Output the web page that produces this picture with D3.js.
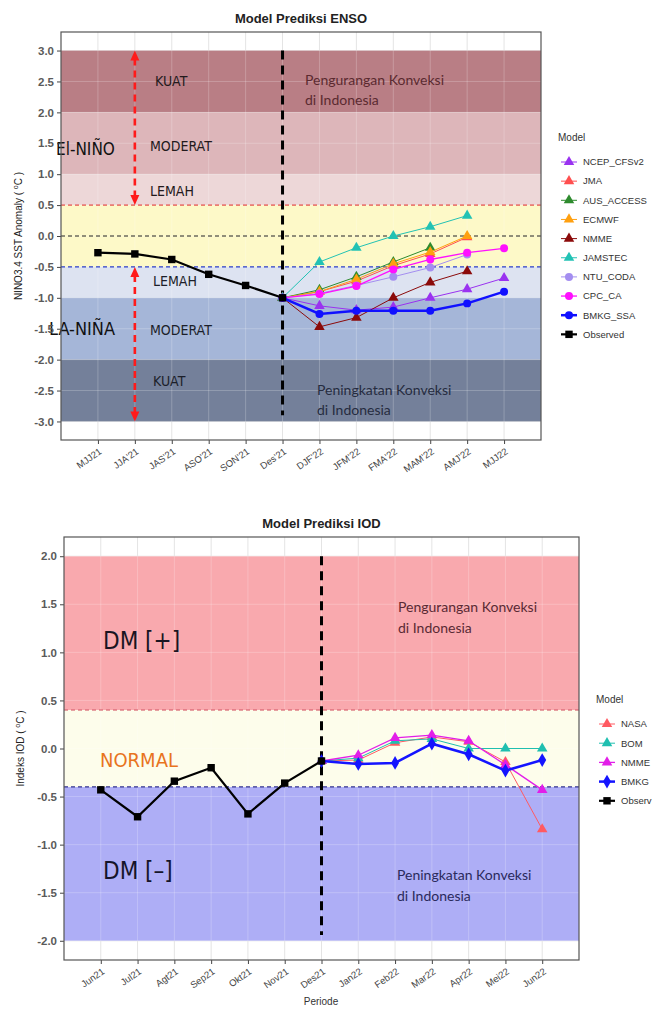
<!DOCTYPE html>
<html>
<head>
<meta charset="utf-8">
<script src="https://cdn.jsdelivr.net/npm/d3@7"></script>
<style>
  body { margin: 0; background: #fff; }
  svg { display: block; }
</style>
</head>
<body>
<div id="chart"></div>
<script>
// ENSO data
var ensoPeriods = ["MJJ21", "JJA'21", "JAS'21", "ASO'21", "SON'21", "Des'21", "DJF'22", "JFM'22", "FMA'22", "MAM'22", "AMJ'22", "MJJ22"];
var ensoObserved = [-0.27, -0.29, -0.38, -0.62, -0.8, -1.0];
// model values start at Des'21
var ensoNcep = [-1.0, -1.13, -1.2, -1.15, -1.0, -0.86, -0.68];
var ensoJma = [-1.0, -0.9, -0.73, -0.48, -0.29, -0.02];
var ensoAus = [-1.0, -0.87, -0.66, -0.42, -0.19];
var ensoEcmwf = [-1.0, -0.9, -0.7, -0.45, -0.26, 0.0];
var ensoNmme = [-1.0, -1.47, -1.32, -1.0, -0.75, -0.57];
var ensoJamstec = [-1.0, -0.42, -0.19, 0.0, 0.15, 0.33];
var ensoNtu = [-1.0, -0.93, -0.8, -0.66, -0.51, -0.3];
var ensoCpc = [-1.0, -0.94, -0.81, -0.54, -0.38, -0.27, -0.2];
var ensoBmkg = [-1.0, -1.26, -1.21, -1.21, -1.21, -1.09, -0.9];
var ensoTicks = [-3, -2.5, -2, -1.5, -1, -0.5, 0, 0.5, 1, 1.5, 2, 2.5, 3];

// IOD data
var iodPeriods = ["Jun21", "Jul21", "Agt21", "Sep21", "Okt21", "Nov21", "Des21", "Jan22", "Feb22", "Mar22", "Apr22", "Mei22", "Jun22"];
var iodObserved = [-0.43, -0.71, -0.34, -0.2, -0.68, -0.36, -0.13];
// model values start at Des21
var iodNasa = [-0.13, -0.12, 0.06, 0.12, 0.07, -0.14, -0.84];
var iodBom = [-0.13, -0.1, 0.08, 0.1, 0.0, 0.0, 0.0];
var iodNmme = [-0.13, -0.07, 0.11, 0.14, 0.08, -0.17, -0.43];
var iodBmkg = [-0.13, -0.16, -0.15, 0.05, -0.06, -0.23, -0.12];
var iodTicks = [-2, -1.5, -1, -0.5, 0, 0.5, 1, 1.5, 2];

var svg = d3
  .select("#chart")
  .append("svg")
  .attr("width", 656)
  .attr("height", 1010)
  .style("font-family", "'Liberation Sans', Arial, sans-serif");

var dinFont = "'DejaVu Sans Condensed', 'DejaVu Sans', sans-serif";
var calFont = "Lato, 'Open Sans', sans-serif";

function symbolFor(shape) {
  if (shape === "triangle") return d3.symbol().type(d3.symbolTriangle).size(48);
  if (shape === "circle") return d3.symbol().type(d3.symbolCircle).size(50);
  if (shape === "diamond") return d3.symbol().type(d3.symbolDiamond).size(55);
  return d3.symbol().type(d3.symbolSquare).size(55);
}

function drawPanel(p) {
  var x = d3.scalePoint().domain(p.periods).range([p.left, p.right]).padding(1);
  var y = d3.scaleLinear().domain(p.yDomain).range([p.bottom, p.top]);
  var g = svg.append("g");

  // title
  g.append("text")
    .attr("x", (p.left + p.right) / 2)
    .attr("y", p.top - 9)
    .attr("text-anchor", "middle")
    .style("font-size", "13px")
    .style("font-weight", "bold")
    .style("fill", "#222")
    .text(p.title);

  // grid under bands
  var minor = d3.range(p.yDomain[0], p.yDomain[1], 0.25).filter((v) => Math.abs(v * 4 - Math.round(v * 4)) < 1e-6);
  g.selectAll(".gridy")
    .data(d3.range(-12, 13).map((d) => d * 0.25).filter((v) => v > p.yDomain[0] && v < p.yDomain[1]))
    .enter()
    .append("line")
    .attr("x1", p.left)
    .attr("x2", p.right)
    .attr("y1", (d) => y(d))
    .attr("y2", (d) => y(d))
    .attr("stroke", (d) => (Math.abs(d * 2 - Math.round(d * 2)) < 1e-6 ? "#e4e4e4" : "#f1f1f1"))
    .attr("stroke-width", 1);
  g.selectAll(".gridx")
    .data(p.periods)
    .enter()
    .append("line")
    .attr("x1", (d) => x(d))
    .attr("x2", (d) => x(d))
    .attr("y1", p.top)
    .attr("y2", p.bottom)
    .attr("stroke", "#e4e4e4");

  // bands
  g.selectAll(".band")
    .data(p.bands)
    .enter()
    .append("rect")
    .attr("x", p.left)
    .attr("width", p.right - p.left)
    .attr("y", (d) => y(d.hi))
    .attr("height", (d) => y(d.lo) - y(d.hi))
    .attr("fill", (d) => d.color);

  // faint grid over bands
  g.selectAll(".gridx2")
    .data(p.periods)
    .enter()
    .append("line")
    .attr("x1", (d) => x(d))
    .attr("x2", (d) => x(d))
    .attr("y1", y(p.bands[0].hi))
    .attr("y2", y(p.bands[p.bands.length - 1].lo))
    .attr("stroke", "#fff")
    .attr("stroke-opacity", 0.22);
  g.selectAll(".gridy2")
    .data(p.yTicks)
    .enter()
    .append("line")
    .attr("x1", p.left)
    .attr("x2", p.right)
    .attr("y1", (d) => y(d))
    .attr("y2", (d) => y(d))
    .attr("stroke", "#fff")
    .attr("stroke-opacity", 0.22);

  // dashed threshold lines
  p.hlines.forEach(function (h) {
    g.append("line")
      .attr("x1", p.left)
      .attr("x2", p.right)
      .attr("y1", y(h.v))
      .attr("y2", y(h.v))
      .attr("stroke", h.color)
      .attr("stroke-width", h.w)
      .attr("stroke-dasharray", "4,3");
  });

  // double headed arrows
  (p.arrows || []).forEach(function (a) {
    var ax = x(p.periods[a.at]);
    var y1 = y(a.from), y2 = y(a.to);
    g.append("line")
      .attr("x1", ax).attr("x2", ax)
      .attr("y1", y1 + 8).attr("y2", y2 - 8)
      .attr("stroke", "#ff1a1a")
      .attr("stroke-width", 2.6)
      .attr("stroke-dasharray", "7,5");
    g.append("path")
      .attr("d", "M" + ax + "," + y1 + "L" + (ax - 4.5) + "," + (y1 + 10) + "L" + (ax + 4.5) + "," + (y1 + 10) + "Z")
      .attr("fill", "#ff1a1a");
    g.append("path")
      .attr("d", "M" + ax + "," + y2 + "L" + (ax - 4.5) + "," + (y2 - 10) + "L" + (ax + 4.5) + "," + (y2 - 10) + "Z")
      .attr("fill", "#ff1a1a");
  });

  // vertical dashed separator
  g.append("line")
    .attr("x1", x(p.periods[p.splitAt]))
    .attr("x2", x(p.periods[p.splitAt]))
    .attr("y1", y(p.split[0]))
    .attr("y2", y(p.split[1]))
    .attr("stroke", "#000")
    .attr("stroke-width", 3)
    .attr("stroke-dasharray", "9,6");

  // annotations
  p.notes.forEach(function (n) {
    g.append("text")
      .attr("x", p.left + n.dx)
      .attr("y", y(n.v))
      .attr("dy", "0.35em")
      .style("font-family", n.font)
      .style("font-size", n.size + "px")
      .style("fill", n.color)
      .text(n.text);
  });

  // series
  var line = d3
    .line()
    .defined((d) => d.v != null)
    .x((d) => x(d.p))
    .y((d) => y(d.v));
  p.series.forEach(function (s) {
    var pts = s.values.map((v, i) => ({ p: p.periods[s.start + i], v: v }));
    g.append("path")
      .datum(pts)
      .attr("d", line)
      .attr("fill", "none")
      .attr("stroke", s.color)
      .attr("stroke-width", s.w);
    g.selectAll(null)
      .data(pts)
      .enter()
      .append("path")
      .attr("transform", (d) => "translate(" + x(d.p) + "," + y(d.v) + ")")
      .attr("d", symbolFor(s.shape))
      .attr("fill", s.color);
  });

  // axes
  var yAxis = g
    .append("g")
    .attr("transform", "translate(" + p.left + ",0)")
    .call(d3.axisLeft(y).tickValues(p.yTicks).tickFormat((d) => d.toFixed(1)).tickSize(4));
  yAxis.select(".domain").remove();
  yAxis.selectAll("line").attr("stroke", "#444");
  yAxis.selectAll("text")
    .style("font-size", "11.5px")
    .style("font-weight", "bold")
    .style("fill", "#5a5a5a")
    .style("font-family", "'Liberation Sans', Arial, sans-serif");

  var xAxis = g
    .append("g")
    .attr("transform", "translate(0," + p.bottom + ")")
    .call(d3.axisBottom(x).tickSize(4));
  xAxis.select(".domain").remove();
  xAxis.selectAll("line").attr("stroke", "#444");
  xAxis.selectAll("text")
    .attr("x", 0)
    .attr("y", 0)
    .attr("dy", 0)
    .attr("transform", "translate(4,13) rotate(-35)")
    .style("text-anchor", "end")
    .style("font-size", "9.5px")
    .style("fill", "#444")
    .style("font-family", "'Liberation Sans', Arial, sans-serif");

  // panel border
  g.append("rect")
    .attr("x", p.left)
    .attr("y", p.top)
    .attr("width", p.right - p.left)
    .attr("height", p.bottom - p.top)
    .attr("fill", "none")
    .attr("stroke", "#555")
    .attr("stroke-width", 1.2);

  // y label
  var yl = g
    .append("text")
    .attr("transform", "translate(" + p.yLabelX + "," + (p.top + p.bottom) / 2 + ") rotate(-90)")
    .attr("text-anchor", "middle")
    .style("font-size", "10px")
    .style("fill", "#222");
  yl.append("tspan").text(p.yLabel + " ( ");
  yl.append("tspan").attr("dy", "-4").style("font-size", "7px").text("o");
  yl.append("tspan").attr("dy", "4").text("C )");

  // legend
  var lg = g.append("g");
  lg.append("text")
    .attr("x", p.legend.x)
    .attr("y", p.legend.y)
    .style("font-size", "10px")
    .style("fill", "#333")
    .text("Model");
  p.series.forEach(function (s, i) {
    var ly = p.legend.y + 21 + i * p.legend.step;
    var kx = p.legend.x + p.legend.key;
    lg.append("line")
      .attr("x1", kx - 8).attr("x2", kx + 8)
      .attr("y1", ly).attr("y2", ly)
      .attr("stroke", s.color)
      .attr("stroke-width", s.w);
    lg.append("path")
      .attr("transform", "translate(" + kx + "," + ly + ")")
      .attr("d", symbolFor(s.shape))
      .attr("fill", s.color);
    lg.append("text")
      .attr("x", kx + 14)
      .attr("y", ly)
      .attr("dy", "0.35em")
      .style("font-size", "9.5px")
      .style("fill", "#333")
      .text(s.label || s.name);
  });
}

drawPanel({
  title: "Model Prediksi ENSO",
  periods: ensoPeriods,
  left: 61, right: 541, top: 32, bottom: 440,
  yDomain: [-3.3, 3.3],
  yTicks: ensoTicks,
  yLabel: "NINO3.4 SST Anomaly",
  yLabelX: 22,
  bands: [
    { lo: 2, hi: 3, color: "#b97e85" },
    { lo: 1, hi: 2, color: "#ddb6ba" },
    { lo: 0.5, hi: 1, color: "#edd7d8" },
    { lo: -0.5, hi: 0.5, color: "#fdf9c8" },
    { lo: -1, hi: -0.5, color: "#dde3f1" },
    { lo: -2, hi: -1, color: "#a5b6d8" },
    { lo: -3, hi: -2, color: "#74809a" }
  ],
  hlines: [
    { v: 0.5, color: "#e02828", w: 1 },
    { v: 0, color: "#222", w: 1 },
    { v: -0.5, color: "#2a3ec8", w: 1.4 }
  ],
  arrows: [
    { at: 1, from: 3.0, to: 0.5 },
    { at: 1, from: -0.5, to: -3.0 }
  ],
  splitAt: 5,
  split: [3.0, -2.9],
  notes: [
    { text: "KUAT", dx: 94, v: 2.5, size: 14, font: dinFont, color: "#231a1c" },
    { text: "MODERAT", dx: 89, v: 1.45, size: 14, font: dinFont, color: "#231a1c" },
    { text: "LEMAH", dx: 89, v: 0.73, size: 14, font: dinFont, color: "#231a1c" },
    { text: "El-NIÑO", dx: -5, v: 1.4, size: 17, font: dinFont, color: "#111" },
    { text: "LEMAH", dx: 92, v: -0.73, size: 14, font: dinFont, color: "#1c1f2a" },
    { text: "LA-NIÑA", dx: -12, v: -1.5, size: 18, font: dinFont, color: "#111" },
    { text: "MODERAT", dx: 89, v: -1.52, size: 14, font: dinFont, color: "#1c1f2a" },
    { text: "KUAT", dx: 92, v: -2.35, size: 14, font: dinFont, color: "#1c1f2a" },
    { text: "Pengurangan Konveksi", dx: 244, v: 2.52, size: 14, font: calFont, color: "#5b2a30" },
    { text: "di Indonesia", dx: 244, v: 2.2, size: 14, font: calFont, color: "#5b2a30" },
    { text: "Peningkatan Konveksi", dx: 256, v: -2.5, size: 14, font: calFont, color: "#262c40" },
    { text: "di Indonesia", dx: 256, v: -2.82, size: 14, font: calFont, color: "#262c40" }
  ],
  series: [
    { name: "NCEP_CFSv2", values: ensoNcep, start: 5, color: "#9a32f0", shape: "triangle", w: 1 },
    { name: "JMA", values: ensoJma, start: 5, color: "#ff4f4f", shape: "triangle", w: 1 },
    { name: "AUS_ACCESS", values: ensoAus, start: 5, color: "#2e8b2e", shape: "triangle", w: 1 },
    { name: "ECMWF", values: ensoEcmwf, start: 5, color: "#ffa010", shape: "triangle", w: 1 },
    { name: "NMME", values: ensoNmme, start: 5, color: "#8b0a0a", shape: "triangle", w: 1 },
    { name: "JAMSTEC", values: ensoJamstec, start: 5, color: "#22c2b4", shape: "triangle", w: 1 },
    { name: "NTU_CODA", values: ensoNtu, start: 5, color: "#a48ef0", shape: "circle", w: 1 },
    { name: "CPC_CA", values: ensoCpc, start: 5, color: "#ff10ff", shape: "circle", w: 1.3 },
    { name: "BMKG_SSA", values: ensoBmkg, start: 5, color: "#1010ff", shape: "circle", w: 2.5 },
    { name: "Observed", values: ensoObserved, start: 0, color: "#000", shape: "square", w: 2.2 }
  ],
  legend: { x: 558, y: 141, step: 19.15, key: 11 }
});

drawPanel({
  title: "Model Prediksi IOD",
  periods: iodPeriods,
  left: 64, right: 579, top: 537, bottom: 960,
  yDomain: [-2.2, 2.2],
  yTicks: iodTicks,
  yLabel: "Indeks IOD",
  yLabelX: 24,
  bands: [
    { lo: 0.4, hi: 2, color: "#f9a9ae" },
    { lo: -0.4, hi: 0.4, color: "#fdfdeb" },
    { lo: -2, hi: -0.4, color: "#aeaef6" }
  ],
  hlines: [
    { v: 0.4, color: "#d0505e", w: 1 },
    { v: -0.4, color: "#303090", w: 1.3 }
  ],
  splitAt: 6,
  split: [2.0, -1.94],
  notes: [
    { text: "DM [+]", dx: 39, v: 1.12, size: 24, font: dinFont, color: "#1a1522" },
    { text: "NORMAL", dx: 36, v: -0.12, size: 20, font: dinFont, color: "#e8741e" },
    { text: "DM [–]", dx: 39, v: -1.27, size: 24, font: dinFont, color: "#15152a" },
    { text: "Pengurangan Konveksi", dx: 334, v: 1.47, size: 14, font: calFont, color: "#5a2a34" },
    { text: "di Indonesia", dx: 334, v: 1.25, size: 14, font: calFont, color: "#5a2a34" },
    { text: "Peningkatan Konveksi", dx: 333, v: -1.32, size: 14, font: calFont, color: "#2a2a5c" },
    { text: "di Indonesia", dx: 333, v: -1.54, size: 14, font: calFont, color: "#2a2a5c" }
  ],
  series: [
    { name: "NASA", values: iodNasa, start: 6, color: "#ff5a62", shape: "triangle", w: 1 },
    { name: "BOM", values: iodBom, start: 6, color: "#1fbfb0", shape: "triangle", w: 1 },
    { name: "NMME", values: iodNmme, start: 6, color: "#e21ee8", shape: "triangle", w: 1.3 },
    { name: "BMKG", values: iodBmkg, start: 6, color: "#1414ff", shape: "diamond", w: 2.5 },
    { name: "Observed", label: "Observ", values: iodObserved, start: 0, color: "#000", shape: "square", w: 2.2 }
  ],
  legend: { x: 596, y: 703, step: 19.2, key: 11 }
});

// x label of lower chart
svg.append("text")
  .attr("x", 321)
  .attr("y", 1005)
  .attr("text-anchor", "middle")
  .style("font-size", "10px")
  .style("fill", "#333")
  .text("Periode");
</script>
</body>
</html>
